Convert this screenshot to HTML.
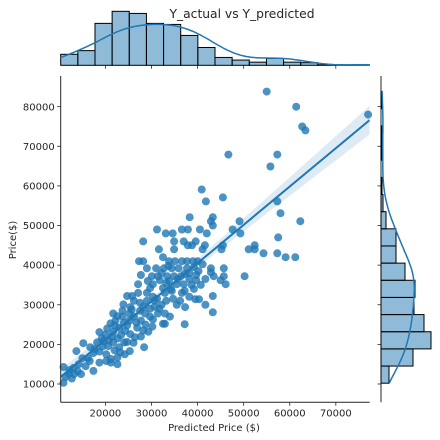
<!DOCTYPE html>
<html><head><meta charset="utf-8">
<style>
html,body{margin:0;padding:0;background:#fff;}
svg{display:block;font-family:"DejaVu Sans","Liberation Sans",sans-serif;}
</style></head>
<body>
<svg id="chart" width="440" height="440" viewBox="0 0 440 440" xmlns="http://www.w3.org/2000/svg">
<rect width="440" height="440" fill="#fff"/>
<text x="242" y="18" font-size="12.3" text-anchor="middle" fill="#262626">Y_actual vs Y_predicted</text>
<g id="gmain"></g>
<g id="gtop"></g>
<g id="gright"></g>
<text x="214" y="431" font-size="10" text-anchor="middle" fill="#262626">Predicted Price ($)</text>
<text x="0" y="0" font-size="10" text-anchor="middle" fill="#262626" transform="translate(16,240) rotate(-90)">Price($)</text>
</svg>
<script>
// ---- data (values in thousands of $) : [predicted, actual]
const points = [
[55,83.8],[61.4,80],[62.7,75],[63.4,74],[77,78],[46.7,67.9],[57.3,67.9],[55.8,64.9],[40.9,59.1],[41.8,56.1],[45.5,57.1],[57.3,56.1],[58,53.1],[62.3,51.1],[38.3,52.1],[43.3,52.1],[42.9,51.1],[43.3,50],[36.6,49],[37.9,49],[40.5,49],[42,48],[47.6,49],[49.1,51.1],[49.3,48],[57.5,47],[37,46],[37.9,45],[38.8,45],[39.6,46],[41.6,45],[41.1,44],[45.5,45],[45.2,44],[51.1,44],[52.4,45],[52.4,44],[54.3,43],[57.3,43],[59.1,42],[61.2,42],[50.2,37.2],[45.7,39.2],[45.7,37.2],[45,36.2],[46.1,35.2],[42.9,39.2],[42.9,38.2],[43.5,37.2],[41.1,40.2],[43.3,32.2],[40.3,31.4],
[31.2,49],[33.1,48],[34.6,48],[28.2,46],[34.9,46],[31.6,44],[34.9,44],[32.5,42],[27.3,41],[28.2,41],[33.8,41],[35.1,41],[36.6,41],[37.7,41],[39,41],[40,41],
[29,39.2],[31,39.2],[32.7,39.2],[34.4,39.2],[35.9,39.2],[37.7,39.2],[39.2,39.5],
[30.1,37.2],[31.4,37.2],[33.4,37.2],[34.9,37.2],[36.4,37.2],[38.2,38],[39.7,37.5],[41.7,36.5],
[31.8,36.2],[33.8,36],[27.1,35.2],[30.3,35.2],[35.5,35.2],[37,35.2],[38.7,35],[40.7,35],
[29.7,34.2],[32.5,34.2],[34.2,34],[37.2,33.5],[39.2,34],
[24.7,32.2],[25.8,32.2],[27.1,33],[29,33],[30.3,32],[32.9,33],[34.4,33.5],[36.6,33],[38.2,32],[39.5,31.4],
[23.9,30.1],[25.4,29.4],[27.5,30.5],[29,31],[30.7,31],[32.2,30],[35.5,30],[37.3,29.4],[41.7,30],
[22.6,27.1],[23.7,27],[25.2,27.8],[26.2,27],[27.5,28.5],[28.6,27.8],[29.7,27],[30.3,26.3],[31.4,27.8],[32.9,27.8],[34,27],[32.5,25.2],[32.9,25.2],[37.2,25.1],[43.3,28.1],
[18.7,23.1],[20.4,24],[21.7,23.2],[23,24.2],[24.3,23.4],[25.4,22.6],[26.9,24.2],[28.2,23.5],[29.3,23.2],[26.4,21.8],[24.7,20.6],[26.1,20.4],[28.4,19.3],
[15.2,20.3],[16.7,19.3],[18.2,20.5],[19.6,20.8],[20.6,19.6],[21.7,20.5],[23,19.3],[24.1,20.5],
[13.7,18.3],[15,16.5],[17.4,17.8],[18.7,18.2],[20.2,17.5],[21.2,16.3],[22.6,16.7],[25.3,18.3],
[17.4,13.3],[16.6,15.8],[18.7,15.4],[20.2,15.8],[21.2,15.4],[22.6,15],
[10.9,14.3],[10.9,10.3],[12.7,11.4],[13.1,14.1],[12.1,12.6],[11.4,11.8],[14,13.2],[14.7,12.5],
[19.2,21.5],[20,22.5],[20.7,21],[21.4,22],[22,24.8],[22.7,21.5],[23.4,22.4],[24,25.5],[24.7,24.8],[25.2,26],[21.1,25.3],[22.2,26],[19.4,19.5],[22,18.5],[23.2,18],[24.2,17.5],[26.7,25.5],[27.7,26],[28.7,25],[29.7,29],[30.7,29.5],[31.7,29],[27.7,22],[30.2,24.5],[31.2,31.5],[33.2,31],[34.7,31.5],[36.2,31],[33.2,35.5],[35.7,36.5],[32.2,38],[38.2,36.5],[39.7,36.2],[37.2,37.8],[40.2,38.5],[33.7,39.8],[29.2,36],[27.7,37.5],[26.2,31],[25.7,28.8],[23.7,28.5],[21.7,27.8],[28.2,29.5],[16.2,16.5],[15.7,14.5],[14.2,15],[17.7,18.8],[13.2,12.5],[12.2,13.5]
];
const xTicks = [20,30,40,50,60,70];
const xTickLabels = ["20000","30000","40000","50000","60000","70000"];
const yTicks = [10,20,30,40,50,60,70,80];
const yTickLabels = ["10000","20000","30000","40000","50000","60000","70000","80000"];
const topBinStart = 10.3, topBinWidth = 3.72;
const topCounts = [21,28,80,103,99,80,78,57,34,15,10,6,13,6,5,1,1,1];
const rightBinStart = 10.2, rightBinWidth = 4.33;
const rightCounts = [8,32,50,43,33,34,24,15,15,5,2,1,0,1,1,0,1];

// ---- layout / scales
const L=60.7, R=369.7, T=76, B=402.3;
const xMin=10.3, xMax=77.35;
const sx = v => L + (v-xMin)/(xMax-xMin)*(R-L);
const sy = v => 384 - (v-10)*3.962;
const topBase=65.3, topPx=0.524;
const rBase=381, rPx=1.0;

const NS="http://www.w3.org/2000/svg";
function mk(tag, parent, attrs){const e=document.createElementNS(NS,tag);for(const k in attrs)e.setAttribute(k,attrs[k]);parent.appendChild(e);return e;}
const gMain=document.getElementById('gmain'), gTop=document.getElementById('gtop'), gRight=document.getElementById('gright');

// regression
const n=points.length;
let mx=0,my=0;points.forEach(p=>{mx+=p[0];my+=p[1];});mx/=n;my/=n;
let sxx=0,sxy=0;points.forEach(p=>{sxx+=(p[0]-mx)**2;sxy+=(p[0]-mx)*(p[1]-my);});
const b1=sxy/sxx,b0=my-b1*mx;
let sse=0;points.forEach(p=>{sse+=(p[1]-b0-b1*p[0])**2;});
const sres=Math.sqrt(sse/(n-2));
const band=[],lo=[];
for(let i=0;i<=60;i++){const x=xMin+(xMax-xMin)*i/60;const f=b0+b1*x;const h=1.96*sres*Math.sqrt(1/n+(x-mx)**2/sxx);band.push([sx(x),sy(f+h)]);lo.push([sx(x),sy(f-h)]);}
const clip=mk('clipPath',gMain,{id:'clipMain'});
mk('rect',clip,{x:L,y:T,width:R-L,height:B-T});

// scatter
const sg=mk('g',gMain,{});


points.forEach(p=>{
  const c=mk('circle',sg,{cx:sx(p[0]).toFixed(1),cy:sy(p[1]).toFixed(1),r:4,fill:'#1f77b4','fill-opacity':0.8});
  
  
});
const bandPath=mk('path',gMain,{d:'M'+band.map(q=>q.join(',')).join('L')+'L'+lo.reverse().map(q=>q.join(',')).join('L')+'Z',fill:'#1f77b4','fill-opacity':0.15,'clip-path':'url(#clipMain)'});


const rl=mk('line',gMain,{x1:sx(xMin),y1:sy(b0+b1*xMin),x2:sx(xMax),y2:sy(b0+b1*xMax),stroke:'#1f77b4','stroke-width':2,'clip-path':'url(#clipMain)'});



// axes
const xa=mk('line',gMain,{x1:L,y1:B,x2:R,y2:B,stroke:'#262626','stroke-width':1});


const ya=mk('line',gMain,{x1:L,y1:T,x2:L,y2:B,stroke:'#262626','stroke-width':1});


xTicks.forEach((v,i)=>{
  const x=sx(v);
  mk('line',gMain,{x1:x,y1:B,x2:x,y2:B+3.5,stroke:'#262626','stroke-width':0.8});
  const t=mk('text',gMain,{x:x,y:B+14,'font-size':10,'text-anchor':'middle',fill:'#262626'});
  t.textContent=xTickLabels[i];
  
  
  mk('line',gTop,{x1:x,y1:topBase,x2:x,y2:topBase+3.5,stroke:'#262626','stroke-width':0.8});
});
yTicks.forEach((v,i)=>{
  const y=sy(v);
  mk('line',gMain,{x1:L-3.5,y1:y,x2:L,y2:y,stroke:'#262626','stroke-width':0.8});
  const t=mk('text',gMain,{x:L-6,y:y+3.6,'font-size':10,'text-anchor':'end',fill:'#262626'});
  t.textContent=yTickLabels[i];
  
  
  mk('line',gRight,{x1:rBase-3.5,y1:y,x2:rBase,y2:y,stroke:'#262626','stroke-width':0.8});
});

// KDE helper
function kde(vals,grid){const m=vals.reduce((a,b)=>a+b,0)/vals.length;const sd=Math.sqrt(vals.reduce((a,b)=>a+(b-m)**2,0)/(vals.length-1));const h=sd*Math.pow(vals.length,-0.2);
  return grid.map(g=>{let d=0;vals.forEach(v=>{d+=Math.exp(-0.5*((g-v)/h)**2);});return d/(vals.length*h*Math.sqrt(2*Math.PI));});}

// top histogram
const tg=mk('g',gTop,{});


topCounts.forEach((c,i)=>{
  const x0=sx(topBinStart+i*topBinWidth),x1=sx(topBinStart+(i+1)*topBinWidth);
  const r=mk('rect',tg,{x:x0,y:topBase-c*topPx,width:x1-x0,height:c*topPx,fill:'#1f77b4','fill-opacity':0.5,stroke:'#000','stroke-width':1});
  
  
});
const topN=topCounts.reduce((a,b)=>a+b,0);
const gx=[];for(let i=0;i<=120;i++)gx.push(xMin+(xMax-xMin)*i/120);
const dx=kde(points.map(p=>p[0]),gx);
const tk=mk('path',gTop,{d:'M'+gx.map((g,i)=>sx(g).toFixed(1)+','+(topBase-dx[i]*topN*topBinWidth*topPx).toFixed(1)).join('L'),fill:'none',stroke:'#1f77b4','stroke-width':1.5});



// right histogram
mk('line',gRight,{x1:rBase,y1:T,x2:rBase,y2:B,stroke:'#262626','stroke-width':1});
const rg=mk('g',gRight,{});


rightCounts.forEach((c,i)=>{
  if(c<=0)return;
  const y0=sy(rightBinStart+(i+1)*rightBinWidth),y1=sy(rightBinStart+i*rightBinWidth);
  const r=mk('rect',rg,{x:rBase,y:y0,width:c*rPx,height:y1-y0,fill:'#1f77b4','fill-opacity':0.5,stroke:'#000','stroke-width':1});
  
  
});
const rN=rightCounts.reduce((a,b)=>a+b,0);
const gy=[];for(let i=0;i<=120;i++)gy.push(10.3+(84-10.3)*i/120);
const dy=kde(points.map(p=>p[1]),gy);
const rk=mk('path',gRight,{d:'M'+gy.map((g,i)=>(rBase+dy[i]*rN*rightBinWidth*rPx).toFixed(1)+','+sy(g).toFixed(1)).join('L'),fill:'none',stroke:'#1f77b4','stroke-width':1.5});


</script>
</body></html>
